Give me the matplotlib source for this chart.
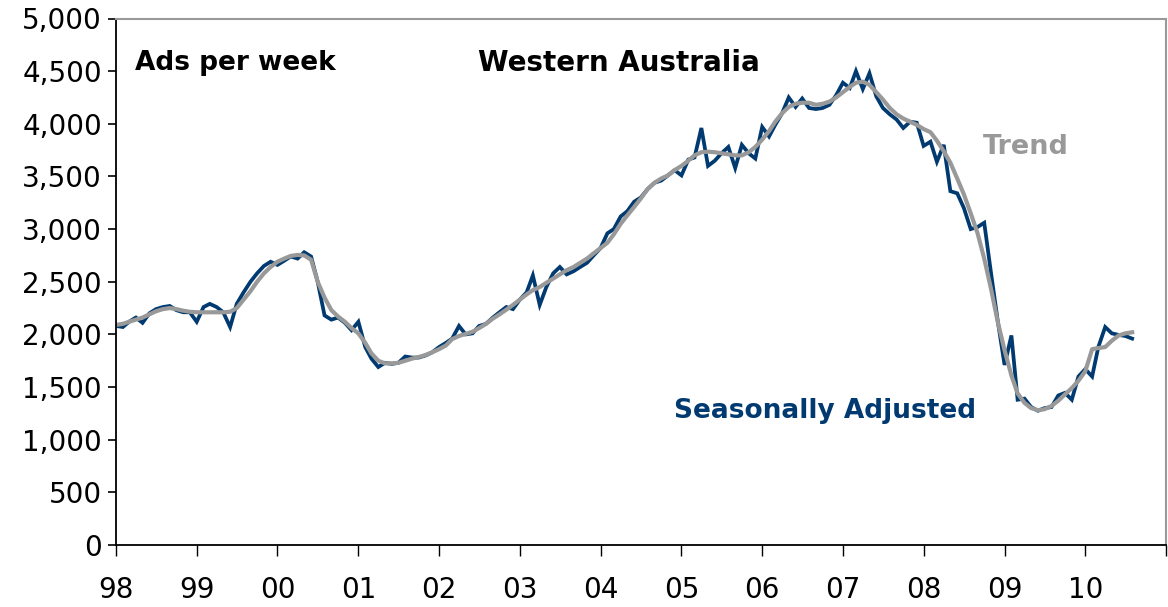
import pandas as pd
import matplotlib
matplotlib.use("Agg")
import matplotlib.pyplot as plt
import matplotlib.dates as mdates
from matplotlib.ticker import FuncFormatter

# Job ads per week, Western Australia, monthly from Jan 1998 to Aug 2010
seasonally_adjusted = [
    2080, 2070, 2120, 2160, 2110, 2200, 2240, 2260, 2270, 2230, 2210, 2210,  # 1998
    2120, 2260, 2290, 2260, 2210, 2070, 2290, 2400, 2500, 2580, 2650, 2690,  # 1999
    2660, 2700, 2740, 2720, 2780, 2740, 2500, 2180, 2140, 2160, 2110, 2040,  # 2000
    2120, 1880, 1770, 1690, 1730, 1720, 1730, 1790, 1780, 1780, 1800, 1830,  # 2001
    1880, 1920, 1960, 2080, 2000, 2010, 2080, 2100, 2160, 2210, 2260, 2240,  # 2002
    2330, 2400, 2560, 2280, 2450, 2580, 2640, 2570, 2600, 2640, 2680, 2750,  # 2003
    2820, 2960, 3000, 3120, 3170, 3260, 3300, 3380, 3440, 3460, 3510, 3560,  # 2004
    3510, 3660, 3680, 3960, 3600, 3650, 3720, 3780, 3580, 3800, 3720, 3670,  # 2005
    3970, 3880, 3990, 4100, 4250, 4160, 4240, 4150, 4140, 4150, 4180, 4270,  # 2006
    4390, 4340, 4500, 4330, 4480, 4260, 4150, 4090, 4040, 3960, 4020, 4010,  # 2007
    3790, 3830, 3640, 3800, 3360, 3340, 3200, 3000, 3020, 3060, 2580, 2130,  # 2008
    1710, 1990, 1380, 1390, 1310, 1275, 1300, 1310, 1420, 1445, 1380, 1600,  # 2009
    1670, 1600, 1880, 2070, 2010, 1995, 1985, 1960,                          # 2010
]

trend = [
    2090, 2100, 2120, 2140, 2160, 2190, 2220, 2240, 2250, 2240, 2225, 2215,
    2210, 2210, 2210, 2210, 2210, 2215, 2250, 2330, 2410, 2500, 2580, 2640,
    2690, 2720, 2745, 2755, 2750, 2710, 2500, 2350, 2230, 2170, 2120, 2060,
    2010, 1920, 1820, 1750, 1725, 1725, 1730, 1750, 1770, 1785, 1805, 1830,
    1860, 1895, 1955, 1985, 2005, 2025, 2060, 2100, 2150, 2190, 2235, 2280,
    2330, 2380, 2420, 2450, 2490, 2530, 2570, 2610, 2640, 2680, 2720, 2770,
    2820, 2870, 2950, 3050, 3130, 3210, 3290, 3380, 3440, 3480, 3510, 3560,
    3600, 3650, 3700, 3730, 3735, 3730, 3720, 3710, 3700, 3700, 3730, 3780,
    3850, 3930, 4020, 4100, 4160, 4190, 4200, 4200, 4180, 4190, 4210, 4250,
    4300, 4350, 4390, 4400, 4370, 4300, 4230, 4150, 4090, 4050, 4020, 3990,
    3950, 3920, 3840, 3740, 3630, 3480, 3330, 3150, 2960, 2720, 2430, 2120,
    1850, 1610, 1440, 1350, 1300, 1280, 1290, 1320, 1370, 1430, 1490, 1560,
    1650, 1860, 1870, 1880, 1940, 1990, 2010, 2020,
]

dates = pd.date_range("1998-01-01", periods=len(seasonally_adjusted), freq="MS")

navy = "#003a70"
grey = "#999999"

fig = plt.figure(figsize=(11.68, 6.07), dpi=100)
ax = fig.add_axes([116 / 1168, 62 / 607, 1050 / 1168, 526.5 / 607])

ax.plot(dates, seasonally_adjusted, color=navy, lw=2.7, solid_joinstyle="miter")
ax.plot(dates, trend, color=grey, lw=3.0)

ax.set_ylim(0, 5000)
ax.set_yticks(range(0, 5001, 500))
ax.yaxis.set_major_formatter(FuncFormatter(lambda v, p: f"{int(v):,}"))
ax.set_xlim(pd.Timestamp("1998-01-01"), pd.Timestamp("2011-01-01"))
ax.xaxis.set_major_locator(mdates.YearLocator())
ax.xaxis.set_major_formatter(FuncFormatter(
    lambda v, p: "" if mdates.num2date(v).year > 2010 else mdates.num2date(v).strftime("%y")))

ax.tick_params(axis="y", direction="out", length=6, width=1.2, labelsize=20, pad=4)
ax.tick_params(axis="x", direction="out", length=8, width=1.0, labelsize=20, pad=14)

for side in ["left", "bottom"]:
    ax.spines[side].set_color("black")
    ax.spines[side].set_linewidth(1.3)
for side in ["top", "right"]:
    ax.spines[side].set_color(grey)
    ax.spines[side].set_linewidth(1.5)

ax.text(0.018, 0.915, "Ads per week", transform=ax.transAxes, fontsize=19,
        fontweight="bold", color="black", va="center")
ax.text(0.345, 0.915, "Western Australia", transform=ax.transAxes, fontsize=20,
        fontweight="bold", color="black", va="center")
ax.text(0.826, 0.755, "Trend", transform=ax.transAxes, fontsize=19.5,
        fontweight="bold", color=grey, va="center")
ax.text(0.531, 0.255, "Seasonally Adjusted", transform=ax.transAxes, fontsize=19,
        fontweight="bold", color=navy, va="center")

fig.savefig("out.png", dpi=100)
